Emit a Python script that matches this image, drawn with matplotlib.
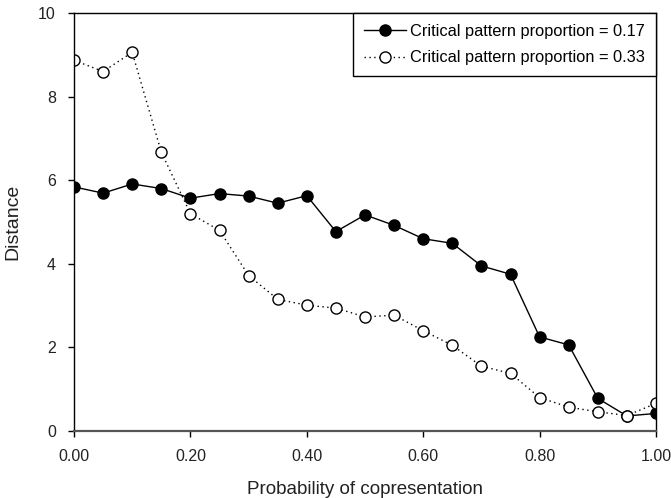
import matplotlib
matplotlib.use('Agg')
import matplotlib.pyplot as plt

# probability of copresentation
prob = [0.00, 0.05, 0.10, 0.15, 0.20, 0.25, 0.30, 0.35, 0.40, 0.45, 0.50,
        0.55, 0.60, 0.65, 0.70, 0.75, 0.80, 0.85, 0.90, 0.95, 1.00]
# distance, critical pattern proportion = 0.17
dist_017 = [5.84, 5.69, 5.91, 5.80, 5.57, 5.68, 5.62, 5.45, 5.63, 4.77, 5.17,
            4.92, 4.60, 4.49, 3.95, 3.75, 2.25, 2.06, 0.78, 0.36, 0.42]
# distance, critical pattern proportion = 0.33
dist_033 = [8.87, 8.60, 9.06, 6.67, 5.20, 4.80, 3.72, 3.15, 3.01, 2.94, 2.73,
            2.77, 2.40, 2.05, 1.55, 1.38, 0.80, 0.57, 0.46, 0.37, 0.66]

xticks = [0.0, 0.2, 0.4, 0.6, 0.8, 1.0]
xticklabels = ['0.00', '0.20', '0.40', '0.60', '0.80', '1.00']
yticks = [0, 2, 4, 6, 8, 10]

plt.rcParams['font.family'] = ['Liberation Sans', 'DejaVu Sans']

fig = plt.figure(figsize=(6.71, 4.98), dpi=100)
ax = fig.add_axes([74/671, 1 - 431/498, (656 - 74)/671, (431 - 13)/498])

ax.plot(prob, dist_017, '-', color='black', lw=1.0, marker='o', ms=8,
        mfc='black', mec='black', label='Critical pattern proportion = 0.17')
ax.plot(prob, dist_033, color='black', lw=1.0, ls=(0, (1, 2.5)), marker='o', ms=8,
        mfc='white', mec='black', mew=1.0, label='Critical pattern proportion = 0.33')

ax.set_xlim(0, 1)
ax.set_ylim(0, 10)
ax.set_xticks(xticks)
ax.set_xticklabels(xticklabels)
ax.set_yticks(yticks)
ax.tick_params(direction='out', length=4, width=1, labelsize=11.5, pad=9, colors='black')
ax.tick_params(axis='y', labelcolor='#222222')
ax.tick_params(axis='x', labelcolor='#222222')
for s in ['left', 'top', 'right']:
    ax.spines[s].set_linewidth(1.0)
    ax.spines[s].set_color('black')
ax.spines['bottom'].set_linewidth(1.6)
ax.spines['bottom'].set_color('#555555')
for sp in ax.spines.values():
    sp.set_clip_on(False)

ax.set_xlabel('Probability of copresentation', fontsize=13.5, labelpad=12, color='#222222')
ax.set_ylabel('Distance', fontsize=14, labelpad=12, color='#222222')

leg = ax.legend(loc='upper right', borderaxespad=0, fontsize=11.8, handlelength=2.6,
                handletextpad=0.25, borderpad=0.65, labelspacing=0.72, fancybox=False,
                framealpha=1, edgecolor='black')
leg.get_frame().set_linewidth(1.0)

fig.savefig('out.png', dpi=100)
